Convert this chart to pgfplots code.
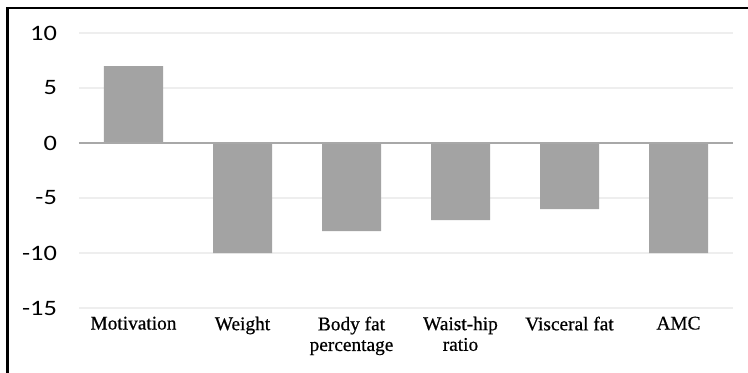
\documentclass[border=0pt]{standalone}
\usepackage{fontspec}
\setmainfont{Liberation Serif}
\newfontfamily\labfont[FakeBold=0.6]{Liberation Serif}
\newfontfamily\tickfont[FakeStretch=1.2]{Carlito}
\usepackage{pgfplots}
\pgfplotsset{compat=1.18}
\definecolor{barc}{HTML}{A3A3A3}
\definecolor{gridc}{HTML}{EEEEEE}
\definecolor{zeroc}{HTML}{A8A8A8}
\begin{document}
\begin{tikzpicture}[x=0.75pt,y=0.75pt]
\useasboundingbox (-79,-64) rectangle (669,308);
\draw[line width=2.2pt, black] (-71.5,-70) -- (-71.5,300) -- (680,300);
\begin{axis}[at={(0,0)}, anchor=south west, scale only axis,
  width=490.5pt, height=206.25pt,
  ymin=-15, ymax=10, ytick={-15,-10,...,10},
  xmin=-0.5, xmax=5.5, xtick={0,...,5},
  xticklabels={Motivation, Weight, {Body fat\\percentage}, {Waist-hip\\ratio}, Visceral fat, AMC},
  x tick label style={align=center, font=\labfont\fontsize{14.5}{15.5}\selectfont, anchor=north, yshift=-3pt},
  y tick label style={font=\tickfont\fontsize{16.5}{16.5}\selectfont, anchor=east, xshift=-13pt},
  /pgf/number format/assume math mode=true,
  ymajorgrids, major grid style={gridc, line width=1.2pt},
  axis line style={draw=none}, major tick length=0pt,
  ybar, bar width=44.25pt,
]
\addplot[fill=barc, draw=none] coordinates {(0,7) (1,-10) (2,-8) (3,-7) (4,-6) (5,-10)};
\draw[zeroc, line width=1.3pt] (axis cs:-0.5,0) -- (axis cs:5.5,0);
\end{axis}
\end{tikzpicture}
\end{document}
